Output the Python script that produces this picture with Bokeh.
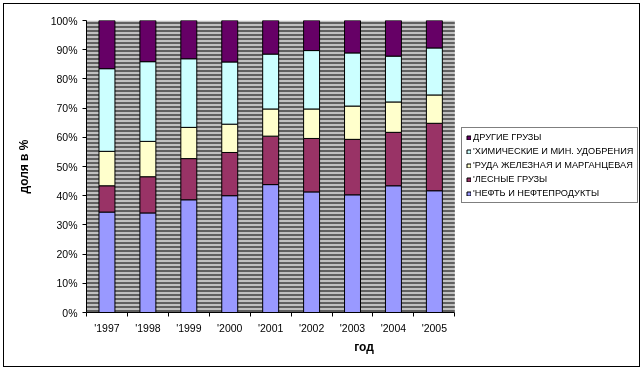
from bokeh.plotting import figure
from bokeh.models import (Range1d, FixedTicker, Legend, LegendItem, BoxAnnotation,
                          ColumnDataSource, PrintfTickFormatter)
from bokeh.embed import file_html
from bokeh.resources import INLINE

# ---- data (shares, %) ----
years = ["'1997", "'1998", "'1999", "'2000", "'2001", "'2002", "'2003", "'2004", "'2005"]
neft = [34.4, 34.1, 38.6, 40.0, 43.8, 41.3, 40.3, 43.4, 41.7]
les = [9.0, 12.4, 14.1, 14.8, 16.6, 18.3, 19.0, 18.3, 23.1]
ruda = [11.8, 12.1, 10.7, 9.7, 9.3, 10.1, 11.4, 10.4, 9.7]
him = [28.3, 27.3, 23.5, 21.3, 18.8, 20.0, 18.2, 15.7, 16.1]
drugie = [16.5, 14.1, 13.1, 14.2, 11.5, 10.3, 11.1, 12.2, 9.4]

names = ["'НЕФТЬ И НЕФТЕПРОДУКТЫ", "'ЛЕСНЫЕ ГРУЗЫ", "'РУДА ЖЕЛЕЗНАЯ И МАРГАНЦЕВАЯ",
         "'ХИМИЧЕСКИЕ И МИН. УДОБРЕНИЯ", "ДРУГИЕ ГРУЗЫ"]
colors = ["#9999FF", "#993366", "#FFFFCC", "#CCFFFF", "#660066"]
y_ticks = list(range(0, 101, 10))

keys = ["neft", "les", "ruda", "him", "drugie"]
series = [neft, les, ruda, him, drugie]

x = [i + 0.5 for i in range(len(years))]
data = {"x": x}
for k, s in zip(keys, series):
    data[k] = s
src = ColumnDataSource(data)

FONT = "Liberation Sans"

# layout: plot area 367 px wide for the categories, frame extended to the right
W, H = 635, 362
LEFT, TOP, BOTTOM = 82, 16, 56
PLOT_W = 367
n = len(years)
x_end = n * (W - LEFT) / PLOT_W

p = figure(width=W, height=H,
           x_range=Range1d(0, x_end), y_range=Range1d(0, 100),
           output_backend="svg", toolbar_location=None,
           min_border_left=LEFT, min_border_right=0,
           min_border_top=TOP, min_border_bottom=BOTTOM)
p.styles = {"position": "fixed", "left": "3px", "top": "3px",
            "border": "1px solid black", "box-sizing": "content-box"}

p.background_fill_color = "white"
p.border_fill_color = "white"
p.outline_line_color = None
p.xgrid.visible = False
p.ygrid.visible = False

p.add_layout(BoxAnnotation(left=0, right=n,
                           fill_color="#C0C0C0", fill_alpha=1,
                           hatch_pattern="horizontal_line", hatch_color="black",
                           hatch_scale=4, hatch_weight=1, hatch_alpha=1,
                           line_color=None, level="underlay"))

rs = p.vbar_stack(keys, x="x", width=0.39, fill_color=colors,
                  line_color="black", line_width=1, source=src)

items = [LegendItem(label=names[i], renderers=[rs[i]]) for i in reversed(range(len(names)))]
legend = Legend(items=items, location=(375, 109),
                glyph_width=5, glyph_height=5, label_height=10,
                spacing=4, padding=4, margin=0, label_standoff=2,
                label_text_font=FONT, label_text_font_size="9.2px",
                label_text_color="black",
                border_line_color="black", border_line_width=1,
                background_fill_color="white", background_fill_alpha=1)
p.add_layout(legend)

# x axis
xa = p.xaxis[0]
xa.bounds = (0, n)
xa.ticker = FixedTicker(ticks=x, minor_ticks=list(range(n + 1)))
xa.major_label_overrides = {xi: lab for xi, lab in zip(x, years)}
xa.major_tick_line_color = None
xa.minor_tick_in = 0
xa.minor_tick_out = 4
xa.minor_tick_line_color = "black"
xa.axis_line_color = "black"
xa.major_label_text_font = FONT
xa.major_label_text_font_size = "10.5px"
xa.major_label_text_color = "black"
xa.major_label_standoff = 3
xa.axis_label = "год"
xa.axis_label_text_font = FONT
xa.axis_label_text_font_size = "12px"
xa.axis_label_text_font_style = "bold"
xa.axis_label_text_color = "black"
xa.axis_label_standoff = 3

# y axis
ya = p.yaxis[0]
ya.ticker = FixedTicker(ticks=y_ticks)
ya.formatter = PrintfTickFormatter(format="%d%%")
ya.major_tick_in = 0
ya.major_tick_out = 4
ya.major_tick_line_color = "black"
ya.minor_tick_line_color = None
ya.axis_line_color = "black"
ya.major_label_text_font = FONT
ya.major_label_text_font_size = "10.5px"
ya.major_label_text_color = "black"
ya.major_label_standoff = 5
ya.axis_label = "доля в %"
ya.axis_label_text_font = FONT
ya.axis_label_text_font_size = "12px"
ya.axis_label_text_font_style = "bold"
ya.axis_label_text_color = "black"
ya.axis_label_standoff = 17

open("out.html", "w").write(file_html(p, INLINE))
